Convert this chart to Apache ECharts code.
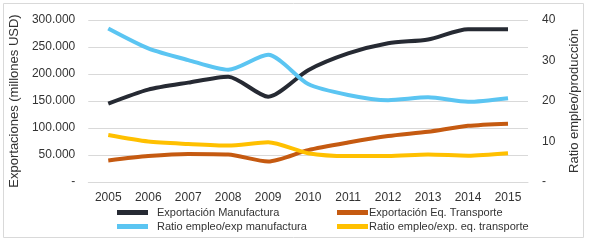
<!DOCTYPE html>
<html><head><meta charset="utf-8">
<script src="https://cdn.jsdelivr.net/npm/echarts@6/dist/echarts.min.js"></script>
<style>html,body{margin:0;padding:0;background:#fff}#c{width:589px;height:242px}</style>
</head><body><div id="c"></div>
<script>
var categories = ['2005','2006','2007','2008','2009','2010','2011','2012','2013','2014','2015'];
var expManufactura = [145000,171000,184000,195000,158000,207000,238000,257000,264000,283000,283000];
var expTransporte = [40000,48000,52000,51000,38000,59000,73000,85000,93000,104000,108000];
var ratioManufactura = [37.9,33.0,30.1,27.7,31.4,24.2,21.5,20.2,20.9,19.8,20.7];
var ratioTransporte = [11.6,10.0,9.4,9.0,9.8,7.1,6.4,6.4,6.8,6.5,7.1];
var leftTicks = [0,50000,100000,150000,200000,250000,300000];
var rightTicks = [0,10,20,30,40];
var names = ['Exportación Manufactura','Exportación Eq. Transporte','Ratio empleo/exp manufactura','Ratio empleo/exp. eq. transporte'];

var ff = 'Liberation Sans';
var chart = echarts.init(document.getElementById('c'));
function fmtLeft(v){ if(v===0) return '-'; return String(v/1000)+'.000'; }
function fmtRight(v){ return v===0 ? '-' : String(v); }
function lg(name, left, top, gap){
  return {left:left,top:top,orient:'horizontal',padding:0,itemWidth:31,itemHeight:5,icon:'rect',data:[name],
    textStyle:{fontFamily:ff,fontSize:11,color:'#333',padding:[0,0,0,gap]}};
}
chart.setOption({
  animation:false,
  textStyle:{fontFamily:ff},
  graphic:[{type:'rect',shape:{x:3.5,y:3.5,width:580,height:234},style:{fill:'none',stroke:'#d9d9d9',lineWidth:1},silent:true}],
  grid:{left:85,right:61,top:20,bottom:60},
  legend:[
    lg(names[0],117,207,4),
    lg(names[2],117,221,4),
    lg(names[1],337,207,-4),
    lg(names[3],337,221,-4)
  ],
  xAxis:{type:'category',data:categories,boundaryGap:true,
    axisLine:{lineStyle:{color:'#d9d9d9'}},axisTick:{show:false},
    axisLabel:{fontFamily:ff,fontSize:12,color:'#333',margin:10}},
  yAxis:[
    {type:'value',min:leftTicks[0],max:leftTicks[leftTicks.length-1],interval:50000,
     name:'Exportaciones (millones USD)',nameLocation:'middle',nameGap:67,nameRotate:90,
     nameTextStyle:{fontFamily:ff,fontSize:13,color:'#333'},
     axisLine:{show:false},axisTick:{show:false},
     axisLabel:{formatter:fmtLeft,fontFamily:ff,fontSize:12,color:'#333',margin:13},
     splitLine:{lineStyle:{color:'#d9d9d9'}}},
    {type:'value',min:rightTicks[0],max:rightTicks[rightTicks.length-1],interval:10,
     name:'Ratio empleo/producción',nameLocation:'middle',nameGap:40,nameRotate:90,
     nameTextStyle:{fontFamily:ff,fontSize:13,color:'#333',padding:[0,0,20,0]},
     axisLine:{show:false},axisTick:{show:false},
     axisLabel:{formatter:fmtRight,fontFamily:ff,fontSize:12,color:'#333',margin:14},
     splitLine:{show:false}}
  ],
  series:[
    {name:names[0],type:'line',yAxisIndex:0,data:expManufactura,smooth:0.25,symbol:'none',lineStyle:{width:4,color:'#262a33'},itemStyle:{color:'#262a33'}},
    {name:names[1],type:'line',yAxisIndex:0,data:expTransporte,smooth:0.25,symbol:'none',lineStyle:{width:4,color:'#c55a11'},itemStyle:{color:'#c55a11'}},
    {name:names[2],type:'line',yAxisIndex:1,data:ratioManufactura,smooth:0.25,symbol:'none',lineStyle:{width:4,color:'#5bc5f2'},itemStyle:{color:'#5bc5f2'}},
    {name:names[3],type:'line',yAxisIndex:1,data:ratioTransporte,smooth:0.25,symbol:'none',lineStyle:{width:4,color:'#ffc000'},itemStyle:{color:'#ffc000'}}
  ]
});
</script></body></html>
